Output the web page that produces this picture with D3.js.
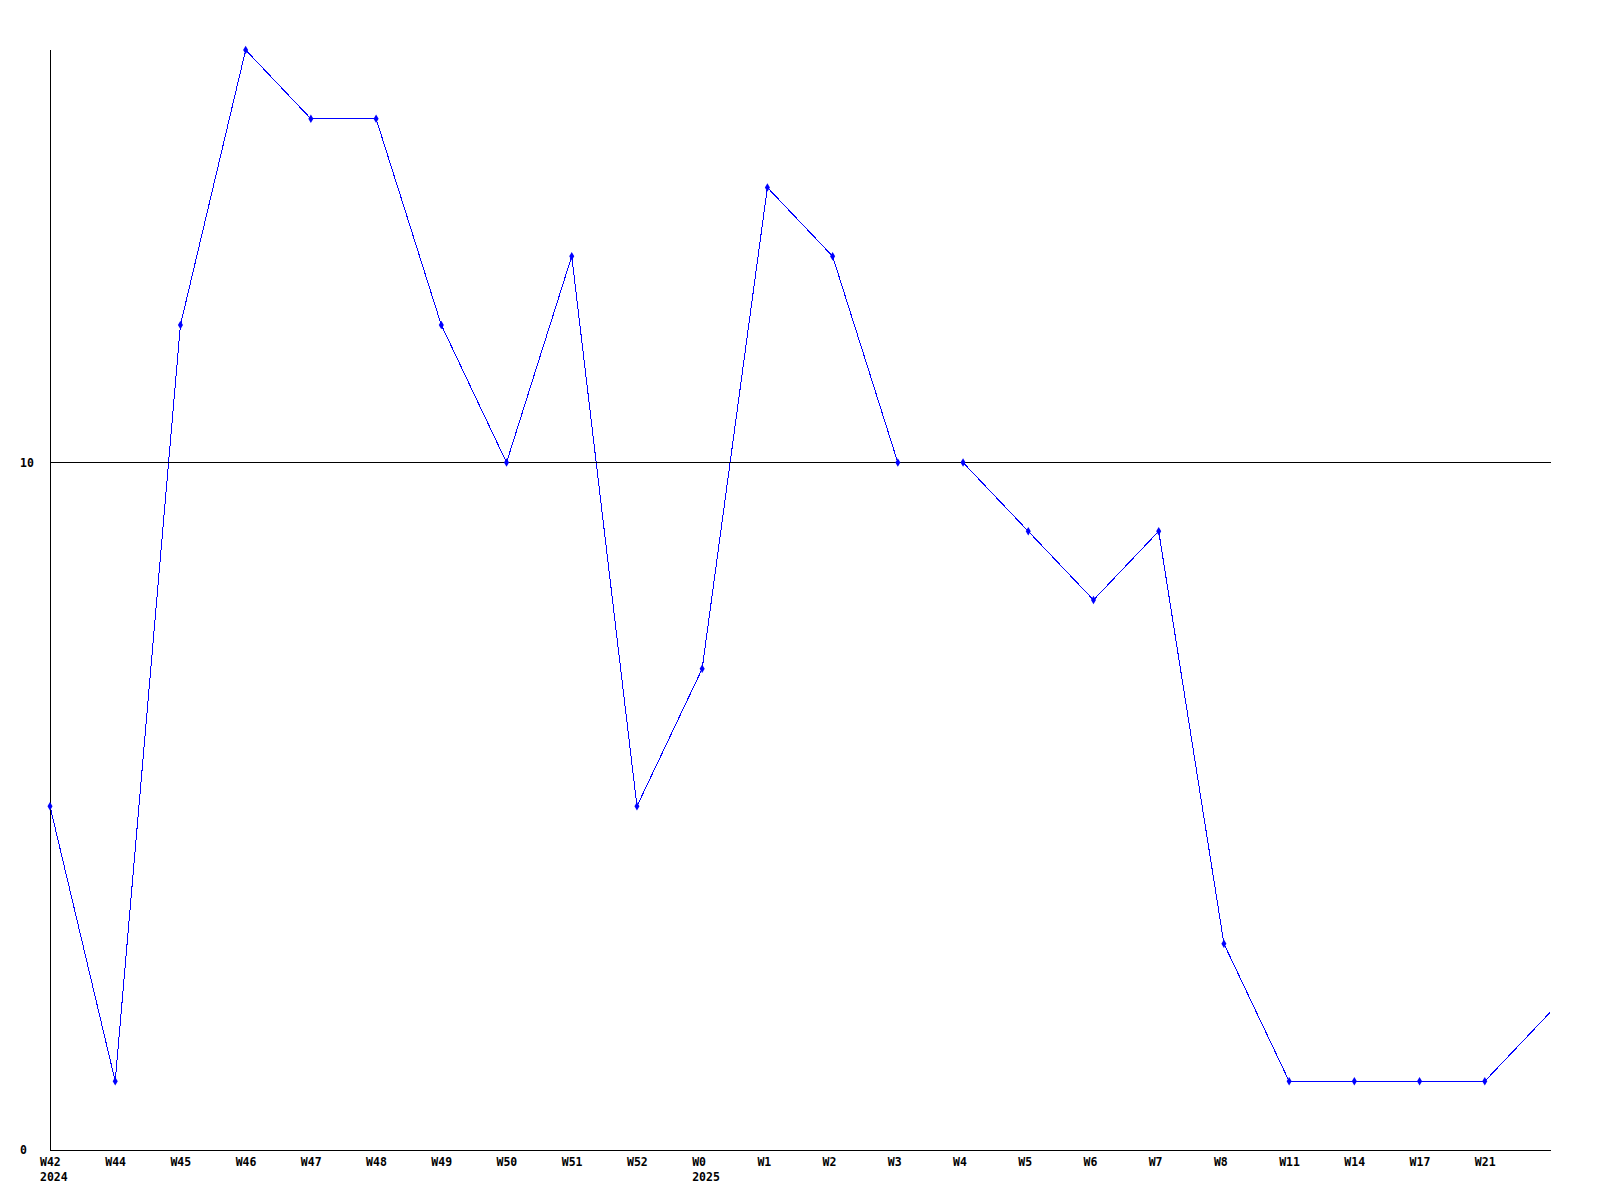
<!DOCTYPE html>
<html>
<head>
<meta charset="utf-8">
<script src="https://cdn.jsdelivr.net/npm/d3@7"></script>
<style>
  html, body { margin: 0; padding: 0; background: #ffffff; }
  svg { display: block; }
  text { font-family: "DejaVu Sans Mono", "Liberation Mono", monospace; font-weight: bold; font-size: 11.5px; fill: #000; }
</style>
</head>
<body>
<svg id="chart" width="1600" height="1200"></svg>
<script>
// Data
const weekLabels = ["W42","W44","W45","W46","W47","W48","W49","W50","W51","W52","W0","W1","W2","W3","W4","W5","W6","W7","W8","W11","W14","W17","W21",""];
const yearLabels = ["2024","","","","","","","","","","2025","","","","","","","","","","","","",""];
const values     = [5,1,12,16,15,15,12,10,13,5,7,14,13,10,10,9,8,9,3,1,1,1,1,2];
const yTicks = [0, 10];
const yMax = 16;

(function () {
const svg = d3.select("#chart");
const mLeft = 50, mRight = 1550, mTop = 50, mBottom = 1150;

const x = d3.scaleLinear().domain([0, values.length - 1]).range([mLeft, mRight]);
const y = d3.scaleLinear().domain([0, yMax]).range([mBottom, mTop]);

// line
const line = d3.line().x((d, i) => x(i)).y(d => y(d));
svg.append("path").datum(values)
  .attr("d", line)
  .attr("fill", "none")
  .attr("stroke", "#0000ff")
  .attr("stroke-width", 1)
  .attr("shape-rendering", "crispEdges");

// gridlines at tick values (except 0), drawn over the series line
svg.selectAll("path.grid").data(yTicks.filter(d => d !== 0)).join("path")
  .attr("class", "grid")
  .attr("d", d => d3.line()([[mLeft, y(d)], [mRight + 1, y(d)]]))
  .attr("fill", "none")
  .attr("stroke", "#000").attr("stroke-width", 1).attr("shape-rendering", "crispEdges");

// axes lines
svg.append("line").attr("x1", mLeft + 0.5).attr("x2", mLeft + 0.5)
  .attr("y1", mTop).attr("y2", mBottom + 1)
  .attr("stroke", "#000").attr("shape-rendering", "crispEdges");
svg.append("line").attr("x1", mLeft).attr("x2", mRight + 1)
  .attr("y1", mBottom + 0.5).attr("y2", mBottom + 0.5)
  .attr("stroke", "#000").attr("shape-rendering", "crispEdges");

// y tick labels
svg.selectAll("text.ytick").data(yTicks).join("text")
  .attr("class", "ytick")
  .attr("x", 20)
  .attr("y", d => y(d) + 4)
  .text(d => d);

// x labels
svg.selectAll("text.xlab").data(weekLabels).join("text")
  .attr("class", "xlab")
  .attr("x", (d, i) => x(i) - 10)
  .attr("y", 1166)
  .text(d => d);
svg.selectAll("text.ylab").data(yearLabels).join("text")
  .attr("class", "ylab")
  .attr("x", (d, i) => x(i) - 10)
  .attr("y", 1181)
  .text(d => d);

// markers
svg.selectAll("path.marker").data(values.map((v, i) => ({v, i})).filter(d => weekLabels[d.i] !== "")).join("path")
  .attr("class", "marker")
  .attr("transform", d => `translate(${x(d.i)},${y(d.v)})`)
  .attr("d", d3.symbol().type(d3.symbolDiamond).size(22))
  .attr("fill", "#0000ff");
})();
</script>
</body>
</html>
